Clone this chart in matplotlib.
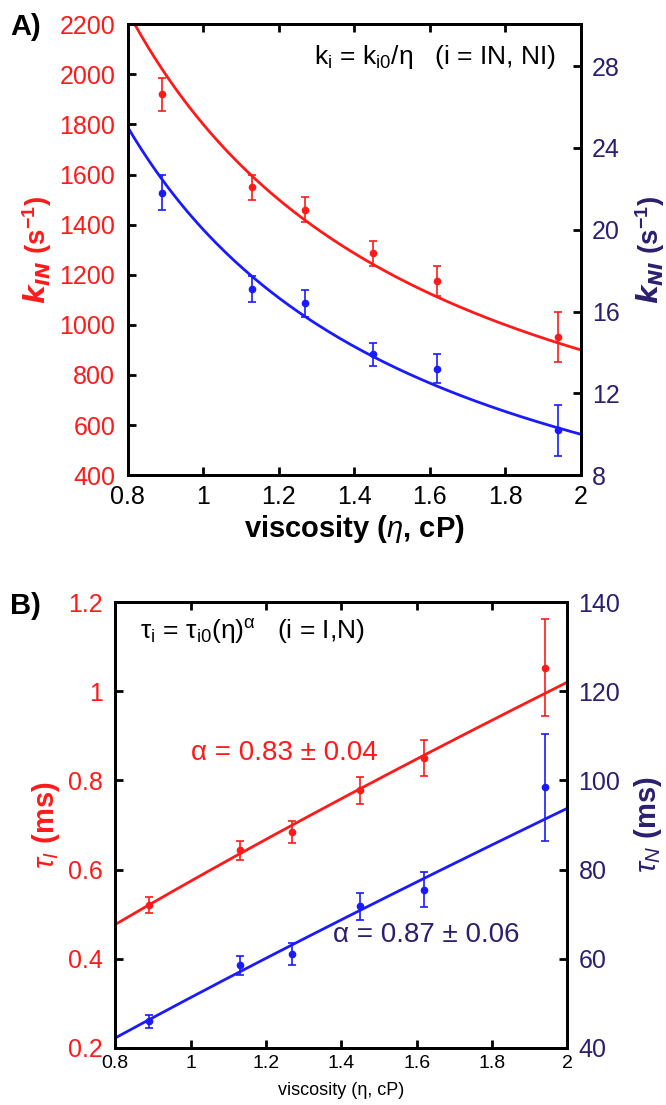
import numpy as np
import matplotlib
matplotlib.use('Agg')
import matplotlib.pyplot as plt

plt.rcParams['font.family'] = ['Liberation Sans', 'DejaVu Sans']
plt.rcParams['mathtext.fontset'] = 'custom'
plt.rcParams['mathtext.rm'] = 'Liberation Sans'
plt.rcParams['mathtext.it'] = 'Liberation Sans:italic'
plt.rcParams['mathtext.bf'] = 'Liberation Sans:bold'

RED = '#ff1a1a'
BLUE = '#1a1aff'
NAVY = '#2b1f6e'

viscosity = [0.89, 1.13, 1.27, 1.45, 1.62, 1.94]

# panel A: rates
k_in = [1920, 1550, 1460, 1285, 1175, 950]
k_in_err = [65, 50, 50, 48, 60, 100]
k_ni = [21.8, 17.1, 16.4, 13.9, 13.2, 10.2]
k_ni_err = [0.85, 0.65, 0.67, 0.58, 0.70, 1.25]
k_in0 = 1800.0
k_ni0 = 20.0

# panel B: times
tau_i = [0.520, 0.643, 0.685, 0.778, 0.850, 1.053]
tau_i_err = [0.018, 0.022, 0.025, 0.030, 0.040, 0.108]
tau_n = [46.0, 58.5, 61.0, 71.8, 75.5, 98.5]
tau_n_err = [1.5, 2.2, 2.5, 3.0, 4.0, 12.0]
tau_i0, alpha_i = 0.574, 0.83
tau_n0, alpha_n = 51.3, 0.87

eta = np.linspace(0.8, 2.0, 200)


def style_axes(ax, ax2, lcolor, rcolor, fs, xpad, ypad):
	for a in (ax, ax2):
		for sp in a.spines.values():
			sp.set_linewidth(2)
	ax.tick_params(axis='both', direction='in', width=2, length=6, top=True, labelsize=fs)
	ax.tick_params(axis='x', pad=xpad)
	ax.tick_params(axis='y', labelcolor=lcolor, pad=ypad)
	ax2.tick_params(axis='y', direction='in', width=2, length=6, labelsize=fs, labelcolor=rcolor, pad=ypad - 1)


fig = plt.figure(figsize=(6.66, 11.05), dpi=100)

# ---- panel A ----
ax = fig.add_axes([0.192, 0.570, 0.680, 0.408])
ax2 = ax.twinx()
ax.plot(eta, k_in0 / eta, color=RED, lw=2)
ax.errorbar(viscosity, k_in, yerr=k_in_err, fmt='o', color=RED, ms=4.5, capsize=3, elinewidth=1.2, capthick=1.2)
ax2.plot(eta, k_ni0 / eta, color=BLUE, lw=2)
ax2.errorbar(viscosity, k_ni, yerr=k_ni_err, fmt='o', color=BLUE, ms=4.5, capsize=3, elinewidth=1.2, capthick=1.2)
ax.set_xlim(0.8, 2.0)
ax.set_ylim(400, 2200)
ax2.set_ylim(8, 8 + 1800 / 81.67)
ax.set_xticks([0.8, 1, 1.2, 1.4, 1.6, 1.8, 2])
ax.set_xticklabels(['0.8', '1', '1.2', '1.4', '1.6', '1.8', '2'])
ax.set_yticks(range(400, 2201, 200))
ax2.set_yticks([8, 12, 16, 20, 24, 28])
style_axes(ax, ax2, RED, NAVY, 18, 7, 9)
ax.set_xlabel(r'viscosity ($\eta$, cP)', fontsize=21, fontweight='bold', labelpad=3)
ax.set_ylabel(r'$\mathbfit{k}_{\mathbfit{IN}}$ (s$^{\mathbf{-1}}$)', fontsize=20, fontweight='bold', color=RED, labelpad=4)
ax2.set_ylabel(r'$\mathbfit{k}_{\mathbfit{NI}}$ (s$^{\mathbf{-1}}$)', fontsize=20, fontweight='bold', color=NAVY, rotation=90, labelpad=10)
ax.text(0.945, 0.927, r'k$_\mathregular{i}$ = k$_\mathregular{i0}$/η   (i = IN, NI)', transform=ax.transAxes,
	ha='right', va='center', fontsize=19)
fig.text(0.015, 0.976, 'A)', fontsize=21, fontweight='bold', va='center')

# ---- panel B ----
bx = fig.add_axes([0.173, 0.0516, 0.679, 0.4036])
bx2 = bx.twinx()
bx.plot(eta, tau_i0 * eta ** alpha_i, color=RED, lw=2)
bx.errorbar(viscosity, tau_i, yerr=tau_i_err, fmt='o', color=RED, ms=4.5, capsize=3, elinewidth=1.2, capthick=1.2)
bx2.plot(eta, tau_n0 * eta ** alpha_n, color=BLUE, lw=2)
bx2.errorbar(viscosity, tau_n, yerr=tau_n_err, fmt='o', color=BLUE, ms=4.5, capsize=3, elinewidth=1.2, capthick=1.2)
bx.set_xlim(0.8, 2.0)
bx.set_ylim(0.2, 1.2)
bx2.set_ylim(40, 140)
bx.set_xticks([0.8, 1, 1.2, 1.4, 1.6, 1.8, 2])
bx.set_xticklabels(['0.8', '1', '1.2', '1.4', '1.6', '1.8', '2'])
bx.set_yticks([0.2, 0.4, 0.6, 0.8, 1.0, 1.2])
bx.set_yticklabels(['0.2', '0.4', '0.6', '0.8', '1', '1.2'])
bx2.set_yticks([40, 60, 80, 100, 120, 140])
style_axes(bx, bx2, RED, NAVY, 18, 5, 9)
bx.tick_params(axis='x', labelsize=14)
bx.set_xlabel('viscosity (η, cP)', fontsize=13, labelpad=7)
bx.set_ylabel(r'$\tau_{\mathit{I}}$ (ms)', fontsize=21, fontweight='bold', color=RED, labelpad=4)
bx2.set_ylabel(r'$\tau_{\mathit{N}}$ (ms)', fontsize=21, fontweight='bold', color=NAVY, rotation=90, labelpad=8)
bx.text(0.055, 0.933, r'τ$_\mathregular{i}$ = τ$_\mathregular{i0}$(η)$^\mathregular{α}$   (i = I,N)', transform=bx.transAxes,
	ha='left', va='center', fontsize=19)
bx.text(0.168, 0.661, 'α = 0.83 ± 0.04', transform=bx.transAxes, color=RED, fontsize=20, va='center')
bx.text(0.482, 0.253, 'α = 0.87 ± 0.06', transform=bx.transAxes, color=NAVY, fontsize=20, va='center')
fig.text(0.015, 0.452, 'B)', fontsize=21, fontweight='bold', va='center')

fig.savefig('out.png', dpi=100)
